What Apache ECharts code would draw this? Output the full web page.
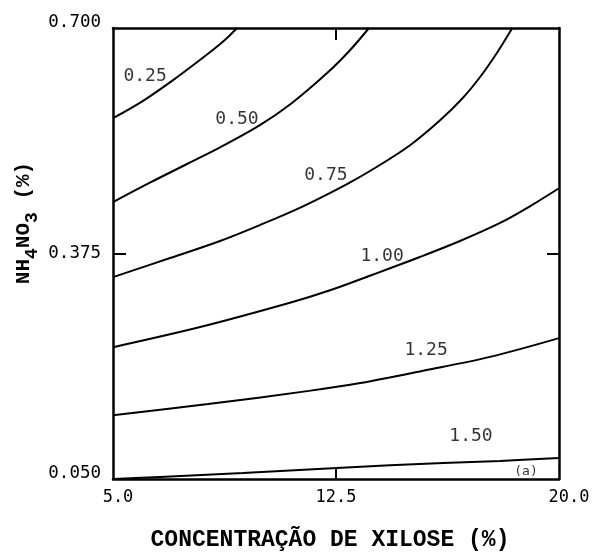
<!DOCTYPE html>
<html>
<head>
<meta charset="utf-8">
<script src="https://cdn.jsdelivr.net/npm/echarts@6/dist/echarts.min.js"></script>
<style>
  html, body { margin: 0; padding: 0; background: #fff; }
  #chart { width: 596px; height: 553px; }
</style>
</head>
<body>
<div id="chart"></div>
<script>
// Axis ranges and tick labels
const xRange = [5.0, 20.0];
const yRange = [0.050, 0.700];
const xTicks = [5.0, 12.5, 20.0];
const yTicks = [0.050, 0.375, 0.700];

// Contour levels: [xylose %, NH4NO3 %] points along each iso-line
const levelNames = ['0.25', '0.50', '0.75', '1.00', '1.25', '1.50'];
const level025 = [[5.0, 0.570], [6.01, 0.595], [7.15, 0.629], [8.26, 0.665], [8.77, 0.683], [9.17, 0.700]];
const level050 = [[5.0, 0.449], [6.24, 0.477], [7.49, 0.504], [8.60, 0.528], [9.94, 0.560], [11.02, 0.592], [12.20, 0.635], [12.97, 0.668], [13.61, 0.700]];
const level075 = [[5.0, 0.341], [6.82, 0.367], [8.60, 0.393], [9.94, 0.416], [11.39, 0.443], [12.87, 0.475], [13.88, 0.500], [14.99, 0.531], [16.00, 0.567], [16.74, 0.598], [17.34, 0.629], [17.91, 0.664], [18.43, 0.700]];
const level100 = [[5.0, 0.240], [7.93, 0.269], [10.95, 0.304], [12.30, 0.322], [13.64, 0.343], [15.32, 0.370], [16.67, 0.393], [18.02, 0.419], [19.02, 0.443], [20.0, 0.469]];
const level125 = [[5.0, 0.142], [8.20, 0.158], [11.59, 0.177], [13.27, 0.188], [15.43, 0.206], [17.68, 0.226], [20.0, 0.253]];
const level150 = [[5.0, 0.050], [6.58, 0.053], [9.37, 0.0587], [12.53, 0.0659], [16.10, 0.0731], [18.02, 0.076], [20.0, 0.0803]];
const levels = [level025, level050, level075, level100, level125, level150];

// Where each level's value is written
const levelLabelPos = [[6.08, 0.631], [9.17, 0.569], [12.16, 0.488], [14.05, 0.371], [15.53, 0.236], [17.04, 0.112]];
const panelTag = '(a)';
const panelTagPos = [18.89, 0.060];

const chart = echarts.init(document.getElementById('chart'), null, { renderer: 'canvas' });

const tickFont = 'DejaVu Sans Mono';
const titleFont = 'Liberation Mono';
const frame = { show: true, lineStyle: { color: '#000', width: 2.5 } };

const lineSeries = levels.map((pts, i) => ({
  type: 'line',
  name: levelNames[i],
  data: pts,
  smooth: 0.35,
  symbol: 'none',
  lineStyle: { color: '#000', width: 2 },
  clip: true,
  z: 3
}));

const labelData = levelNames.map((t, i) => ({ name: t, value: levelLabelPos[i] }));
labelData.push({ name: panelTag, value: panelTagPos, label: { fontSize: 13 } });

function xTickText(v) {
  const s = v.toFixed(1);
  if (v === xTicks[0]) return '{a|' + s + '}';
  if (v === xTicks[2]) return '{c|' + s + '}';
  return s;
}
function yTickText(v) {
  const s = v.toFixed(3);
  return v === yTicks[1] ? s : '{end|' + s + '}';
}

// Vertical axis title NH4NO3 (%) with subscripts, laid out along its reading direction
const yTitleParts = [
  { t: 'NH', sub: false },
  { t: '4', sub: true },
  { t: 'NO', sub: false },
  { t: '3', sub: true },
  { t: ' (%)', sub: false }
];
const mainSize = 21, subSize = 18, charW = 0.6;
const yTitleWidth = yTitleParts.reduce((w, p) => w + p.t.length * charW * (p.sub ? subSize : mainSize), 0);
let cursor = -yTitleWidth / 2;
const yTitleChildren = yTitleParts.map(p => {
  const size = p.sub ? subSize : mainSize;
  const el = {
    type: 'text',
    x: cursor,
    y: p.sub ? 8 : 0,
    style: {
      text: p.t,
      fill: '#000',
      font: 'bold ' + size + 'px "' + titleFont + '"',
      align: 'left',
      verticalAlign: 'middle'
    }
  };
  cursor += p.t.length * charW * size;
  return el;
});

const option = {
  backgroundColor: '#fff',
  animation: false,
  grid: { left: 113, right: 37, top: 28, bottom: 74, outerBoundsMode: 'none' },
  xAxis: [
    {
      type: 'value', min: xRange[0], max: xRange[1], position: 'bottom',
      axisLine: frame,
      splitLine: { show: false },
      axisTick: { show: true, inside: true, length: 12, customValues: [xTicks[1]], lineStyle: { color: '#000', width: 2 } },
      axisLabel: {
        customValues: xTicks, margin: 10, color: '#000', fontFamily: tickFont, fontSize: 17,
        formatter: xTickText,
        rich: {
          a: { fontFamily: tickFont, fontSize: 17, color: '#000', padding: [0, 0, 0, 10] },
          c: { fontFamily: tickFont, fontSize: 17, color: '#000', padding: [0, 0, 0, 20] }
        }
      }
    },
    {
      type: 'value', min: xRange[0], max: xRange[1], position: 'top',
      axisLine: frame,
      splitLine: { show: false },
      axisTick: { show: true, inside: true, length: 12, customValues: [xTicks[1]], lineStyle: { color: '#000', width: 2 } },
      axisLabel: { show: false }
    }
  ],
  yAxis: [
    {
      type: 'value', min: yRange[0], max: yRange[1], position: 'left',
      axisLine: frame,
      splitLine: { show: false },
      axisTick: { show: true, inside: true, length: 13, customValues: [yTicks[1]], lineStyle: { color: '#000', width: 2 } },
      axisLabel: {
        customValues: yTicks, margin: 12, color: '#000', fontFamily: tickFont, fontSize: 17.5,
        formatter: yTickText,
        rich: { end: { fontFamily: tickFont, fontSize: 17.5, color: '#000', padding: [0, 0, 12, 0] } }
      }
    },
    {
      type: 'value', min: yRange[0], max: yRange[1], position: 'right',
      axisLine: frame,
      splitLine: { show: false },
      axisTick: { show: true, inside: true, length: 12, customValues: [yTicks[1]], lineStyle: { color: '#000', width: 2 } },
      axisLabel: { show: false }
    }
  ],
  series: lineSeries.concat([{
    type: 'scatter',
    data: labelData,
    symbolSize: 2,
    itemStyle: { color: 'rgba(0,0,0,0)' },
    label: {
      show: true, position: 'inside', formatter: '{b}',
      color: '#000', fontFamily: tickFont, fontSize: 18
    },
    emphasis: { disabled: true },
    z: 4
  }]),
  graphic: [
    {
      type: 'text',
      x: 330,
      y: 540,
      style: {
        text: 'CONCENTRAÇÃO DE XILOSE (%)',
        align: 'center',
        verticalAlign: 'middle',
        fill: '#000',
        font: 'bold 23px "' + titleFont + '"'
      }
    },
    {
      type: 'group',
      x: 24, y: 223,
      rotation: Math.PI / 2,
      children: yTitleChildren
    }
  ]
};

chart.setOption(option);
</script>
</body>
</html>
